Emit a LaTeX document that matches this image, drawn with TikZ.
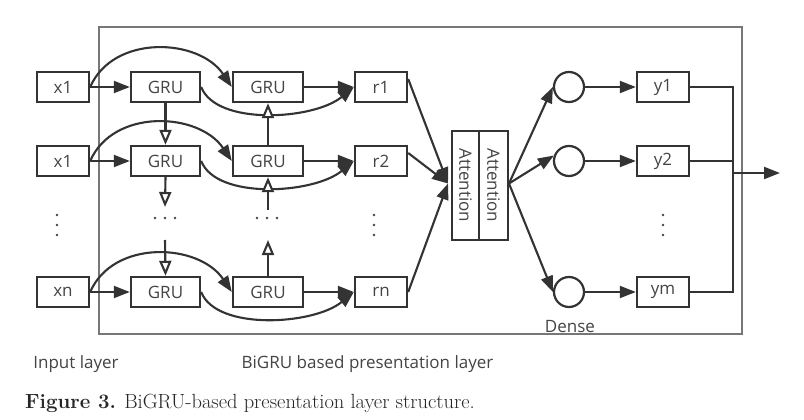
\documentclass[tikz,border=0pt]{standalone}
\usepackage{fontspec}
\newfontfamily\diagfont{Open Sans}
\usetikzlibrary{arrows.meta}
\definecolor{lc}{HTML}{333333}
\definecolor{tc}{HTML}{444444}
\definecolor{fc}{HTML}{777777}
\begin{document}
\begin{tikzpicture}[x=1pt,y=-1pt,
  ln/.style={draw=lc, line width=2.1pt},
  fa/.style={-{Triangle[length=16pt,width=12pt]}},
  oa/.style={-{Triangle[open,length=15pt,width=12pt,fill=white]}},
  box/.style={draw=lc, line width=2.4pt, minimum height=30pt, inner sep=0pt,
    font=\diagfont\fontsize{17}{20}\selectfont, text=tc},
  circ/.style={circle, draw=lc, line width=2.2pt, minimum size=30pt, inner sep=0pt},
  lbl/.style={font=\diagfont\fontsize{17}{20}\selectfont, text=tc, inner sep=0pt, anchor=base},
  dot/.style={circle, fill=tc, minimum size=2.6pt, inner sep=0pt}]
\fill[white] (0,0) rectangle (804,420);
\useasboundingbox (0,0) rectangle (804,420);
\node[draw=fc, line width=1.3pt, minimum width=643pt, minimum height=307pt, inner sep=0pt] (frame) at (420.5,180.5) {};
% rows
\foreach \i/\yy/\xl/\rl/\yl in {a/87/x1/r1/y1, b/161/x1/r2/y2, c/292/xn/rn/ym} {
  \node[box, minimum width=52pt] (x\i) at (63,\yy) {\xl};
  \node[box, minimum width=69pt] (g\i) at (165.5,\yy) {GRU};
  \node[box, minimum width=70pt] (h\i) at (268,\yy) {GRU};
  \node[box, minimum width=52pt] (r\i) at (381,\yy) {\rl};
  \node[circ] (c\i) at (569,\yy) {};
  \node[box, minimum width=52pt] (y\i) at (663,\yy) {\yl};
  \draw[ln,fa] (x\i.east) -- (g\i.west);
  \draw[ln,fa] (h\i.east) -- (r\i.west);
  \draw[ln,fa] (x\i.east) .. controls +(23,-53) and +(-33,-49) .. (h\i.west);
  \draw[ln,fa] (g\i.east) .. controls +(15,39) and +(-40,33) .. (r\i.west);
  \draw[ln,fa] (c\i.east) -- (y\i.west);
}
% vertical GRU links
\coordinate (gbd) at (165,207);
\coordinate (gcu) at (165,240);
\coordinate (hbd) at (268,210);
\coordinate (hcu) at (268,240);
\draw[ln,oa] (ga.south) -- (gb.north);
\draw[ln,oa] (gb.south) -- (gbd);
\draw[ln,oa] (gcu) -- (gc.north);
\draw[ln,oa] (hb.north) -- (ha.south);
\draw[ln,oa] (hbd) -- (hb.south);
\draw[ln,oa] (hc.north) -- (hcu);
% dots
\foreach \yy in {215,225,235} {
  \node[dot] at (57,\yy) {};
  \node[dot] at (374,\yy) {};
  \node[dot] at (663,\yy) {};
}
\foreach \xx in {155,165,175,257,267,277} { \node[dot] at (\xx,218) {}; }
% attention
\node[box, line width=2pt, minimum width=27pt, minimum height=109pt] (atl) at (465.5,185.5) {\rotatebox{-90}{Attention}};
\node[box, line width=2pt, minimum width=29pt, minimum height=109pt] (atr) at (493.5,185.5) {\rotatebox{-90}{Attention}};
\draw[ln,fa] ([yshift=8pt]ra.east) -- ([xshift=-3pt,yshift=2pt]atl.west);
\draw[ln,fa] ([yshift=8pt]rb.east) -- ([xshift=-3pt,yshift=2pt]atl.west);
\draw[ln,fa] (rc.east) -- ([xshift=-3pt,yshift=2pt]atl.west);
\draw[ln,fa] ([yshift=2pt]atr.east) -- (ca.west);
\draw[ln,fa] ([yshift=2pt]atr.east) -- (cb.160);
\draw[ln,fa] ([yshift=2pt]atr.east) -- (cc.west);
% output
\coordinate (jt) at (733,87);
\coordinate (jb) at (733,292);
\coordinate (jo) at (733,173);
\coordinate (out) at (780,173);
\draw[ln] (ya.east) -- (jt) -- (jb) -- (yc.east);
\draw[ln] (yb.east) -- (yb.east -| jt);
\draw[ln,fa] (jo) -- (out);
% labels
\node[lbl] (dense) at (570,332) {Dense};
\node[lbl] (inl) at (76,368) {Input layer};
\node[lbl] (bil) at (367.5,368) {BiGRU based presentation layer};
\node[anchor=base west, inner sep=0pt, font=\fontsize{20.5}{24}\selectfont, text=black!85] (cap) at (25,408) {\textbf{Figure 3.} BiGRU-based presentation layer structure.};
\end{tikzpicture}
\end{document}
